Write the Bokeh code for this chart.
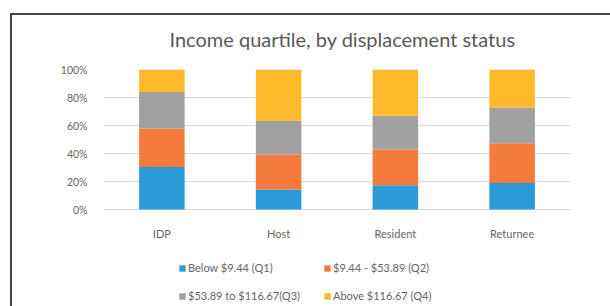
from bokeh.plotting import figure
from bokeh.models import Legend, LegendItem, NumeralTickFormatter, FixedTicker, ColumnDataSource
from bokeh.embed import file_html
from bokeh.resources import INLINE

categories = ["IDP", "Host", "Resident", "Returnee"]
q1 = [30.3, 14.2, 17.3, 18.9]
q2 = [27.6, 25.0, 25.5, 28.4]
q3 = [26.0, 24.2, 24.1, 25.5]
q4 = [16.1, 36.6, 33.1, 27.2]
series_labels = ["Below $9.44 (Q1)", "$9.44 - $53.89 (Q2)",
                 "$53.89 to $116.67(Q3)", "Above $116.67 (Q4)"]
colors = ["#2A9BD8", "#F47B3B", "#A0A0A0", "#FDB92A"]
y_ticks = [0, 0.2, 0.4, 0.6, 0.8, 1.0]

FONT = "Lato"
TXT = "#666666"

# frame: 0% at y=209 px, 100% at y=69 px, frame runs to the bottom of the canvas
PX_PER_UNIT = 140.0
Y_START = -(306 - 209) / PX_PER_UNIT

p = figure(x_range=categories, y_range=(Y_START, 1.0), width=610, height=306,
           output_backend="svg", toolbar_location=None, x_axis_location=None,
           min_border_left=103, min_border_right=40, min_border_top=69,
           min_border_bottom=0)
p.border_fill_alpha = 0
p.background_fill_alpha = 0
p.styles = {
    "background": "linear-gradient(#444444,#444444) 10px 13px / 2px 100% no-repeat, "
                  "linear-gradient(#444444,#444444) 10px 13px / 100% 2px no-repeat"
}
p.title.text = "Income quartile, by displacement status"
p.title.align = "left"
p.title.vertical_align = "middle"
p.title.text_font = FONT
p.title.text_font_size = "20px"
p.title.text_font_style = "normal"
p.title.text_color = "#595959"
p.title.offset = 66
p.title.standoff = 35

data = dict(cat=categories)
for i, s in enumerate([q1, q2, q3, q4]):
    data["s%d" % i] = [v / 100.0 for v in s]

keys = ["s0", "s1", "s2", "s3"]
renderers = p.vbar_stack(keys, x="cat", width=0.39, color=colors, source=data,
                         line_width=0)

# category labels under the 0% baseline
lab_src = ColumnDataSource(dict(cat=categories, y=[-24 / PX_PER_UNIT] * len(categories)))
p.text(x="cat", y="y", text="cat", source=lab_src, text_align="center",
       text_baseline="middle", text_font_size="11px", text_color=TXT,
       text_font={"value": FONT})

p.outline_line_color = None
p.xgrid.grid_line_color = None
p.ygrid.grid_line_color = "#D9D9D9"
p.ygrid.grid_line_width = 1
p.yaxis.ticker = FixedTicker(ticks=y_ticks)
p.yaxis.formatter = NumeralTickFormatter(format="0%")
p.yaxis.axis_line_color = None
p.yaxis.major_tick_line_color = None
p.yaxis.minor_tick_line_color = None
p.yaxis.major_label_standoff = 10
p.yaxis.major_label_text_font = FONT
p.yaxis.major_label_text_font_size = "10.5px"
p.yaxis.major_label_text_color = TXT
p.ygrid.ticker = FixedTicker(ticks=y_ticks)

items = [LegendItem(label=lab, renderers=[r]) for lab, r in zip(series_labels, renderers)]
legend = Legend(items=items, location=(75, 4), orientation="horizontal", ncols=2,
                padding=0, margin=0, spacing=15, label_standoff=2,
                glyph_width=8, glyph_height=8, label_height=12, label_width=120,
                label_text_font=FONT, label_text_font_size="11px",
                label_text_color=TXT, border_line_color=None,
                background_fill_alpha=0)
p.add_layout(legend, "center")

open("out.html", "w").write(file_html(p, INLINE))
